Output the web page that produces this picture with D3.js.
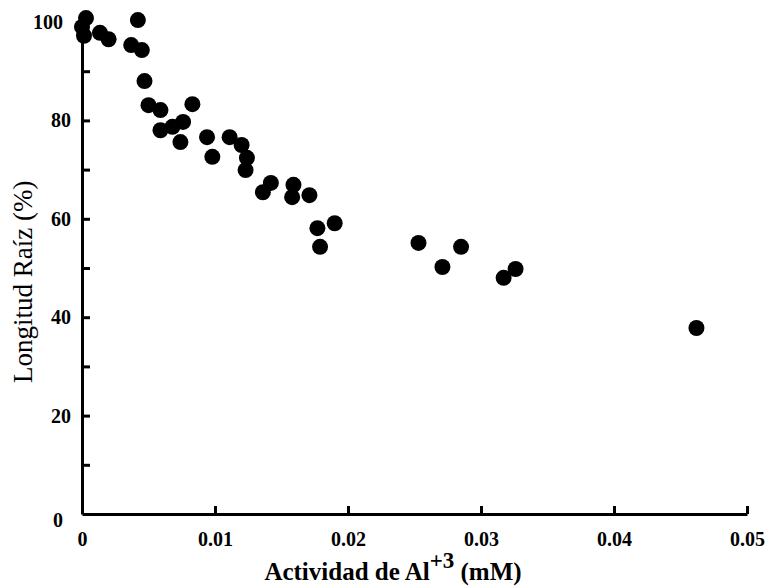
<!DOCTYPE html>
<html>
<head>
<meta charset="utf-8">
<script src="https://cdn.jsdelivr.net/npm/d3@7"></script>
<style>
  body { margin: 0; background: #fff; }
  svg text { font-family: 'Liberation Serif', 'Times New Roman', serif; font-weight: bold; fill: #000; }
  .axis .domain { stroke: #000; stroke-width: 3; }
  .axis .tick line { stroke: #000; stroke-width: 3; }
</style>
</head>
<body>
<div class="container"></div>
<script>
// Al+3 activity (mM) vs relative root length (%)
var alActivity = [0, 0.0003, 0.00015, 0.00135, 0.002, 0.0042, 0.0037, 0.0045, 0.0047,
  0.005, 0.0059, 0.0083, 0.0059, 0.0068, 0.0076, 0.0074, 0.0094, 0.0098, 0.0111,
  0.012, 0.0124, 0.0123, 0.0136, 0.0142, 0.0159, 0.0158, 0.0171, 0.0177, 0.019,
  0.0179, 0.0253, 0.0285, 0.0271, 0.0317, 0.0326, 0.0462]
var rootLength = [99.0, 100.8, 97.2, 97.8, 96.5, 100.4, 95.3, 94.3, 88.0,
  83.1, 82.1, 83.3, 78.0, 78.7, 79.7, 75.6, 76.6, 72.6, 76.6,
  75.0, 72.4, 69.9, 65.4, 67.3, 66.9, 64.4, 64.8, 58.1, 59.1,
  54.3, 55.1, 54.3, 50.2, 48.0, 49.8, 37.8]

var xTicks = [0, 0.01, 0.02, 0.03, 0.04, 0.05]
var yTicks = [0, 10, 20, 30, 40, 50, 60, 70, 80, 90, 100]
var yTickLabels = [0, 20, 40, 60, 80, 100]

var data = alActivity.map(function (x, i) {
  return { x: x, y: rootLength[i] }
})

var width = 766
var height = 588
var margin = { top: 22, right: 19, bottom: 74, left: 82 }
var innerW = width - margin.left - margin.right
var innerH = height - margin.top - margin.bottom

var svg = d3.select('.container')
            .append('svg')
            .attr('width', width)
            .attr('height', height)

var g = svg.append('g')
           .attr('transform', 'translate(' + margin.left + ',' + margin.top + ')')

var xScale = d3.scaleLinear()
               .domain([0, 0.05])
               .range([0, innerW])

var yScale = d3.scaleLinear()
               .domain([0, 100])
               .range([innerH, 0])

// x axis, ticks point up into the plot
var xAxis = g.append('g')
             .attr('class', 'axis x')
             .attr('transform', 'translate(0,' + innerH + ')')
             .call(d3.axisBottom(xScale)
                     .tickValues(xTicks)
                     .tickSizeInner(-8)
                     .tickSizeOuter(0)
                     .tickPadding(18)
                     .tickFormat(function (d) {
                       return d === 0 ? '0' : d3.format('.2f')(d)
                     }))
xAxis.selectAll('.tick text').style('font-size', '20px')
xAxis.selectAll('.tick')
     .filter(function (d) { return d === 0 })
     .select('line')
     .remove()

// y axis, ticks point right
var yAxis = g.append('g')
             .attr('class', 'axis y')
             .call(d3.axisLeft(yScale)
                     .tickValues(yTicks)
                     .tickSizeInner(-8)
                     .tickSizeOuter(0)
                     .tickPadding(11)
                     .tickFormat(function (d) {
                       return yTickLabels.indexOf(d) >= 0 ? d : ''
                     }))
yAxis.selectAll('.tick text').style('font-size', '20px')
yAxis.selectAll('.tick')
     .filter(function (d) { return d === 0 })
     .select('line')
     .remove()
yAxis.selectAll('.tick')
     .filter(function (d) { return d === 100 || d === 0 })
     .select('text')
     .attr('x', -19)
yAxis.selectAll('.tick')
     .filter(function (d) { return d === 0 })
     .select('text')
     .attr('dy', '0.6em')

// points
g.selectAll('.dot')
 .data(data)
 .enter()
 .append('circle')
 .attr('class', 'dot')
 .attr('cx', function (d) { return xScale(d.x) })
 .attr('cy', function (d) { return yScale(d.y) })
 .attr('r', 8)
 .attr('fill', '#000')

// axis titles
var xTitle = svg.append('text')
                .attr('x', 393)
                .attr('y', 580)
                .attr('text-anchor', 'middle')
                .style('font-size', '25px')
xTitle.append('tspan').text('Actividad de Al')
xTitle.append('tspan').attr('dy', -12).style('font-size', '23px').text('+3')
xTitle.append('tspan').attr('dy', 12).text(' (mM)')

svg.append('text')
   .attr('transform', 'translate(32,383) rotate(-90)')
   .attr('text-anchor', 'start')
   .style('font-size', '27px')
   .style('font-weight', 'normal')
   .text('Longitud Raíz (%)')
</script>
</body>
</html>
